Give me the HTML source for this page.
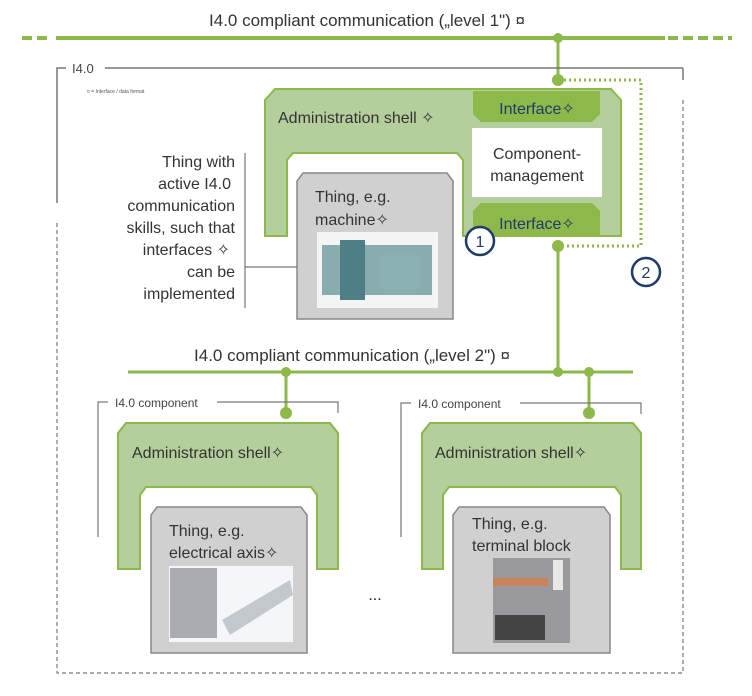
<!DOCTYPE html>
<html><head><meta charset="utf-8"><style>
body{margin:0;background:#fff}
svg text{font-family:"Liberation Sans",sans-serif}
</style></head><body>
<svg width="752" height="691" viewBox="0 0 752 691" xmlns="http://www.w3.org/2000/svg">
<!-- level 1 -->
<text x="367" y="26" font-size="17" fill="#333" text-anchor="middle">I4.0 compliant communication („level 1") ¤</text>
<line x1="22" y1="38" x2="50" y2="38" stroke="#8db84a" stroke-width="4" stroke-dasharray="10,5"/>
<line x1="56" y1="38" x2="665" y2="38" stroke="#8db84a" stroke-width="4"/>
<line x1="668" y1="38" x2="732" y2="38" stroke="#8db84a" stroke-width="4" stroke-dasharray="10,5"/>
<circle cx="558" cy="38" r="5" fill="#8db84a"/>
<line x1="558" y1="38" x2="558" y2="80" stroke="#8db84a" stroke-width="3"/>
<circle cx="558" cy="80" r="6" fill="#8db84a"/>
<polyline points="564,80 641,80 641,246 564,246" fill="none" stroke="#8db84a" stroke-width="3" stroke-dasharray="2,3"/>
<!-- I4.0 frame -->
<polyline points="57,203 57,68 66,68" fill="none" stroke="#777" stroke-width="1.5"/>
<line x1="105" y1="68" x2="683" y2="68" stroke="#777" stroke-width="1.5"/>
<line x1="683" y1="68" x2="683" y2="80" stroke="#777" stroke-width="1.5"/>
<polyline points="683,100 683,673 57,673 57,222" fill="none" stroke="#777" stroke-width="1.2" stroke-dasharray="4,3"/>
<text x="72" y="73" font-size="13" fill="#444">I4.0</text>
<text x="87" y="93" font-size="5" fill="#555">¤ = Interface / data format</text>
<!-- shell 1 -->
<path d="M265,236 L265,100 L275,89 L611,89 L621,100 L621,236 L463,236 L463,160 L457,153 L293,153 L287,160 L287,236 Z" fill="#b4cf9b" stroke="#8db84a" stroke-width="2"/>
<text x="278" y="123" font-size="16" fill="#333">Administration shell ✧</text>
<path d="M473,91 L600,91 L600,114 L592,122 L481,122 L473,114 Z" fill="#8db84a"/>
<text x="537" y="114" font-size="16" fill="#1f3a6b" text-anchor="middle">Interface✧</text>
<rect x="472" y="128" width="130" height="69" fill="#fff"/>
<text x="537" y="159" font-size="16" fill="#333" text-anchor="middle">Component-</text>
<text x="537" y="181" font-size="16" fill="#333" text-anchor="middle">management</text>
<path d="M481,203 L592,203 L600,211 L600,235 L473,235 L473,211 Z" fill="#8db84a"/>
<text x="537" y="229" font-size="16" fill="#1f3a6b" text-anchor="middle">Interface✧</text>
<circle cx="480" cy="241" r="14" fill="#fff" stroke="#1f3a6b" stroke-width="2.5"/>
<text x="480" y="247" font-size="16" fill="#1f3a6b" text-anchor="middle">1</text>
<circle cx="646" cy="272" r="14" fill="#fff" stroke="#1f3a6b" stroke-width="2.5"/>
<text x="646" y="278" font-size="16" fill="#1f3a6b" text-anchor="middle">2</text>
<circle cx="558" cy="246" r="6" fill="#8db84a"/>
<line x1="558" y1="246" x2="558" y2="372" stroke="#8db84a" stroke-width="3"/>
<!-- machine thing -->
<path d="M297,319 L297,181 L303,173 L447,173 L453,181 L453,319 Z" fill="#d0d0d0" stroke="#888" stroke-width="1.5"/>
<text x="315" y="202" font-size="16" fill="#333">Thing, e.g.</text>
<text x="315" y="225" font-size="16" fill="#333">machine✧</text>
<rect x="317" y="232" width="121" height="76" fill="#f3f5f5"/>
<rect x="322" y="245" width="110" height="50" fill="#6e9a9e" opacity="0.8"/>
<rect x="340" y="240" width="25" height="60" fill="#4f7f86"/>
<rect x="380" y="255" width="40" height="35" fill="#8ab0b3"/>
<!-- left label -->
<g font-size="16" fill="#333" text-anchor="end">
<text x="235" y="167">Thing with</text>
<text x="231" y="189">active I4.0</text>
<text x="235" y="211">communication</text>
<text x="235" y="233">skills, such that</text>
<text x="230" y="255">interfaces ✧</text>
<text x="235" y="277">can be</text>
<text x="235" y="299">implemented</text>
</g>
<line x1="245" y1="153" x2="245" y2="308" stroke="#777" stroke-width="1.2"/>
<line x1="245" y1="267" x2="297" y2="267" stroke="#777" stroke-width="1.2"/>
<!-- level 2 -->
<text x="352" y="361" font-size="17" fill="#333" text-anchor="middle">I4.0 compliant communication („level 2") ¤</text>
<line x1="128" y1="372" x2="633" y2="372" stroke="#8db84a" stroke-width="3"/>
<circle cx="286" cy="372" r="5" fill="#8db84a"/><circle cx="558" cy="372" r="5" fill="#8db84a"/><circle cx="589" cy="372" r="5" fill="#8db84a"/>
<line x1="286" y1="372" x2="286" y2="413" stroke="#8db84a" stroke-width="3"/><circle cx="286" cy="413" r="6" fill="#8db84a"/>
<line x1="589" y1="372" x2="589" y2="413" stroke="#8db84a" stroke-width="3"/><circle cx="589" cy="413" r="6" fill="#8db84a"/>
<!-- component left -->
<polyline points="98,537 98,402 108,402" fill="none" stroke="#777" stroke-width="1.2"/>
<polyline points="217,402 338,402 338,413" fill="none" stroke="#777" stroke-width="1.2"/>
<text x="115" y="407" font-size="12" fill="#444">I4.0 component</text>
<path d="M118,569 L118,433 L126,423 L330,423 L338,433 L338,569 L317,569 L317,495 L311,487 L146,487 L140,495 L140,569 Z" fill="#b4cf9b" stroke="#8db84a" stroke-width="2"/>
<text x="132" y="458" font-size="16" fill="#333">Administration shell✧</text>
<path d="M151,653 L151,515 L157,507 L301,507 L307,515 L307,653 Z" fill="#d0d0d0" stroke="#888" stroke-width="1.5"/>
<text x="169" y="536" font-size="16" fill="#333">Thing, e.g.</text>
<text x="169" y="558" font-size="16" fill="#333">electrical axis✧</text>
<rect x="169" y="566" width="124" height="76" fill="#f5f6f7"/>
<rect x="170" y="568" width="47" height="70" fill="#a9adb1"/>
<polygon points="222,620 290,580 293,595 230,635" fill="#c3c8cc"/>
<!-- component right -->
<polyline points="401,537 401,403 411,403" fill="none" stroke="#777" stroke-width="1.2"/>
<polyline points="520,403 641,403 641,414" fill="none" stroke="#777" stroke-width="1.2"/>
<text x="418" y="408" font-size="12" fill="#444">I4.0 component</text>
<path d="M422,569 L422,433 L430,423 L633,423 L641,433 L641,569 L621,569 L621,495 L615,487 L449,487 L443,495 L443,569 Z" fill="#b4cf9b" stroke="#8db84a" stroke-width="2"/>
<text x="435" y="458" font-size="16" fill="#333">Administration shell✧</text>
<path d="M453,653 L453,515 L459,507 L604,507 L610,515 L610,653 Z" fill="#d0d0d0" stroke="#888" stroke-width="1.5"/>
<text x="472" y="529" font-size="16" fill="#333">Thing, e.g.</text>
<text x="472" y="551" font-size="16" fill="#333">terminal block</text>
<rect x="493" y="558" width="77" height="85" fill="#9a9a9c"/>
<rect x="493" y="578" width="55" height="8" fill="#c8835a"/>
<rect x="495" y="615" width="50" height="25" fill="#444"/>
<rect x="553" y="560" width="10" height="30" fill="#e8e8e8"/>
<text x="375" y="600" font-size="16" fill="#222" text-anchor="middle">...</text>
</svg>
</body></html>
